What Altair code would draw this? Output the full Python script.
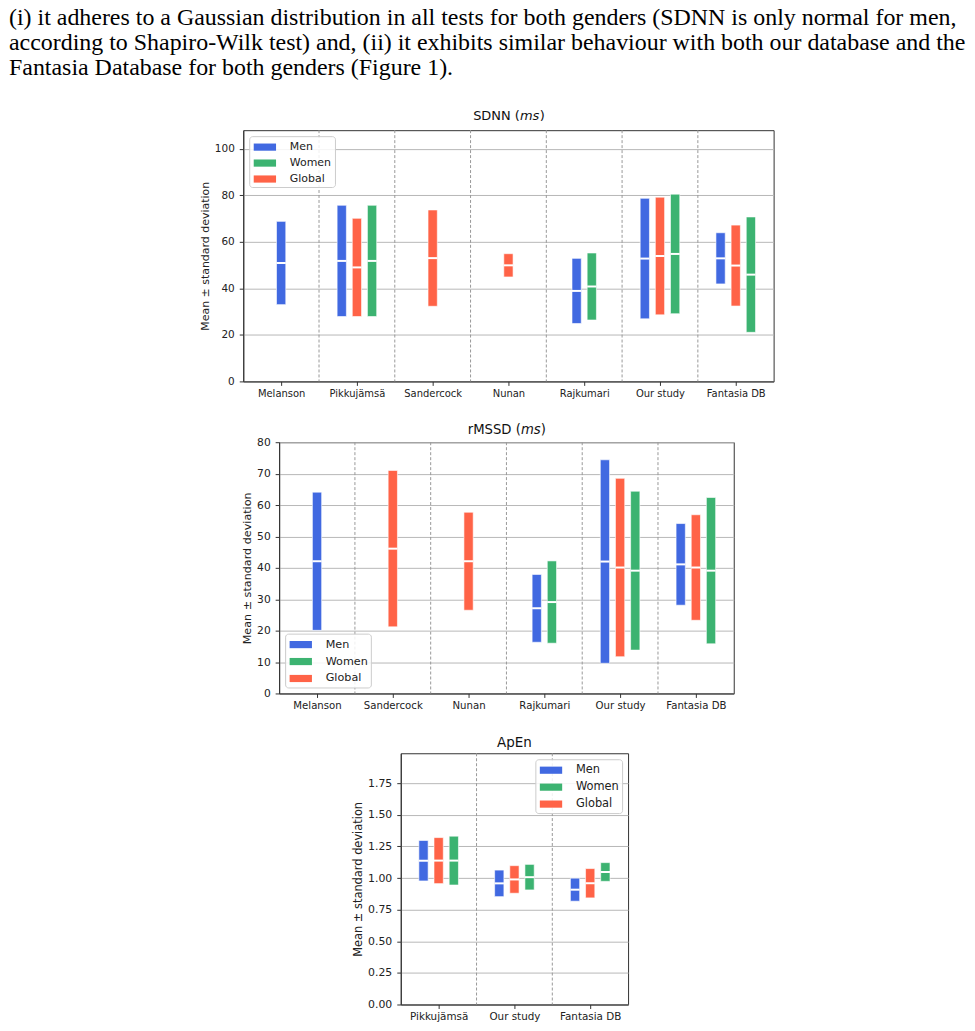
import json
import altair as alt
import pandas as pd

PARA_LINES = [
    "(i) it adheres to a Gaussian distribution in all tests for both genders (SDNN is only normal for men,",
    "according to Shapiro-Wilk test) and, (ii) it exhibits similar behaviour with both our database and the",
    "Fantasia Database for both genders (Figure 1).",
]

GROUPS = ["Men", "Women", "Global"]
GROUP_COLORS = ["#4169E1", "#3CB371", "#FF6347"]
SLOT_ORDER = ["Men", "Global", "Women"]
Y_TITLE = "Mean ± standard deviation"

# SDNN (ms)
SDNN_CATS = ["Melanson", "Pikkujämsä", "Sandercock", "Nunan", "Rajkumari", "Our study", "Fantasia DB"]
SDNN_MEN_MEAN = [50.9, 51.8, None, None, 38.9, 52.8, 52.9]
SDNN_MEN_SD = [17.9, 23.9, None, None, 14.0, 25.9, 11.0]
SDNN_WOMEN_MEAN = [None, 51.8, None, None, 40.8, 54.8, 45.9]
SDNN_WOMEN_SD = [None, 23.9, None, None, 14.4, 25.7, 24.8]
SDNN_GLOBAL_MEAN = [None, 49.0, 53.0, 49.9, None, 53.9, 49.8]
SDNN_GLOBAL_SD = [None, 21.1, 20.7, 5.0, None, 25.3, 17.4]

# rMSSD (ms)
RMSSD_CATS = ["Melanson", "Sandercock", "Nunan", "Rajkumari", "Our study", "Fantasia DB"]
RMSSD_MEN_MEAN = [42.1, None, None, 27.1, 42.0, 41.1]
RMSSD_MEN_SD = [22.0, None, None, 10.8, 32.4, 13.0]
RMSSD_WOMEN_MEAN = [None, None, None, 29.1, 39.1, 39.1]
RMSSD_WOMEN_SD = [None, None, None, 13.1, 25.3, 23.3]
RMSSD_GLOBAL_MEAN = [None, 46.1, 42.1, None, 40.1, 40.1]
RMSSD_GLOBAL_SD = [None, 24.9, 15.6, None, 28.4, 16.8]

# ApEn
APEN_CATS = ["Pikkujämsä", "Our study", "Fantasia DB"]
APEN_MEN_MEAN = [1.137, 0.958, 0.908]
APEN_MEN_SD = [0.160, 0.105, 0.091]
APEN_WOMEN_MEAN = [1.138, 1.007, 1.048]
APEN_WOMEN_SD = [0.193, 0.101, 0.074]
APEN_GLOBAL_MEAN = [1.138, 0.989, 0.959]
APEN_GLOBAL_SD = [0.182, 0.109, 0.116]

STEP = 76
PLOT_H = 252
LEGEND_SYMBOL = "M-1.4,-0.45H1.4V0.45H-1.4Z"


def build_df(cats, series):
    rows = []
    for i, c in enumerate(cats):
        present = [g for g in SLOT_ORDER if series[g][0][i] is not None]
        n = len(present)
        for k, g in enumerate(present):
            m = series[g][0][i]
            s = series[g][1][i]
            rows.append(dict(cat=c, group=g, mean=m, lo=m - s, hi=m + s,
                             xpos=i + (k - (n - 1) / 2) * 0.2))
    return pd.DataFrame(rows)


def panel(cats, series, ydomain, yticks, yfmt, legend_orient, title_parts,
          title_y, fs=1.0):
    n = len(cats)
    W = STEP * n
    df = build_df(cats, series)
    xscale = alt.Scale(domain=[-0.5, n - 0.5], nice=False, zero=False, padding=0)
    yscale = alt.Scale(domain=ydomain, nice=False, zero=False, padding=0)
    label_expr = json.dumps(cats, ensure_ascii=False) + "[round(datum.value)]"
    xaxis = alt.Axis(values=list(range(n)), labelExpr=label_expr, title=None,
                     grid=False, labelFlush=False, labelOverlap=False,
                     labelFontSize=10 * fs, tickSize=4, labelPadding=3.5)
    yaxis = alt.Axis(values=yticks, format=yfmt, title=Y_TITLE, grid=True,
                     tickSize=4, labelPadding=5, labelFontSize=10.5 * fs,
                     titleFontSize=11 * fs, titlePadding=4, labelFlush=False,
                     labelOverlap=False)

    seps = pd.DataFrame({"b": [i + 0.5 for i in range(n - 1)]})
    sep_layer = alt.Chart(seps).mark_rule(
        color="#999999", strokeDash=[3, 2], strokeWidth=1
    ).encode(x=alt.X("b:Q", scale=xscale, axis=xaxis))

    bars = alt.Chart(df).mark_bar(size=9.3, stroke="white", strokeWidth=0.6).encode(
        x=alt.X("xpos:Q", scale=xscale, axis=xaxis),
        y=alt.Y("lo:Q", scale=yscale, axis=yaxis),
        y2="hi:Q",
        color=alt.Color(
            "group:N",
            scale=alt.Scale(domain=GROUPS, range=GROUP_COLORS),
            legend=alt.Legend(
                orient=legend_orient, offset=6, title=None,
                symbolType=LEGEND_SYMBOL, symbolSize=256, symbolStrokeWidth=0,
                symbolOffset=4.7, labelOffset=17, padding=3, rowPadding=3,
                labelFontSize=11 * fs, labelFont="DejaVu Sans", labelColor="#222222",
                strokeColor="#cccccc", fillColor="rgba(255,255,255,0.85)",
                cornerRadius=3,
            ),
        ),
    )

    means = alt.Chart(df).mark_tick(
        orient="horizontal", color="white", size=9.3, thickness=2, opacity=1
    ).encode(
        x=alt.X("xpos:Q", scale=xscale, axis=xaxis),
        y=alt.Y("mean:Q", scale=yscale, axis=yaxis),
    )

    title_layers = []
    for text, style, align, dx in title_parts:
        title_layers.append(
            alt.Chart(pd.DataFrame({"t": [text]})).mark_text(
                font="DejaVu Sans", fontSize=13 * fs, fontStyle=style,
                align=align, baseline="alphabetic", color="#111111",
            ).encode(x=alt.value(W / 2 + dx), y=alt.value(title_y), text="t:N")
        )

    return alt.layer(sep_layer, bars, means, *title_layers).properties(
        width=W, height=PLOT_H
    )


def spacer(w):
    return alt.Chart(pd.DataFrame({"a": [0]})).mark_point(opacity=0).encode(
        x=alt.value(0), y=alt.value(0)
    ).properties(width=w, height=10, view=alt.ViewBackground(strokeOpacity=0))


def row(w, p):
    return alt.hconcat(spacer(w), p, spacing=0).resolve_scale(
        color="independent"
    ).resolve_legend(color="independent")


sdnn = panel(
    SDNN_CATS,
    {"Men": (SDNN_MEN_MEAN, SDNN_MEN_SD), "Women": (SDNN_WOMEN_MEAN, SDNN_WOMEN_SD),
     "Global": (SDNN_GLOBAL_MEAN, SDNN_GLOBAL_SD)},
    [0, 108], [0, 20, 40, 60, 80, 100], "d", "top-left",
    [("SDNN (", "normal", "right", 11.5), ("ms", "italic", "left", 11.5),
     (")", "normal", "left", 31.5)],
    -10.5, 1.0,
)

rmssd = panel(
    RMSSD_CATS,
    {"Men": (RMSSD_MEN_MEAN, RMSSD_MEN_SD), "Women": (RMSSD_WOMEN_MEAN, RMSSD_WOMEN_SD),
     "Global": (RMSSD_GLOBAL_MEAN, RMSSD_GLOBAL_SD)},
    [0, 80], [0, 10, 20, 30, 40, 50, 60, 70, 80], "d", "bottom-left",
    [("rMSSD (", "normal", "right", 14.5), ("ms", "italic", "left", 14.5),
     (")", "normal", "left", 34.5)],
    -8, 1.02,
)

apen = panel(
    APEN_CATS,
    {"Men": (APEN_MEN_MEAN, APEN_MEN_SD), "Women": (APEN_WOMEN_MEAN, APEN_WOMEN_SD),
     "Global": (APEN_GLOBAL_MEAN, APEN_GLOBAL_SD)},
    [0, 1.987], [0, 0.25, 0.5, 0.75, 1.0, 1.25, 1.5, 1.75], ".2f", "top-right",
    [("ApEn", "normal", "center", 0)],
    -6, 1.04,
)

para = alt.Chart(pd.DataFrame({"a": [0]})).mark_text(
    font="Liberation Serif", fontSize=24, align="left", baseline="alphabetic",
    lineHeight=25, color="black",
).encode(
    x=alt.value(1), y=alt.value(24), text=alt.value(PARA_LINES)
).properties(width=965, height=85, view=alt.ViewBackground(strokeOpacity=0))

chart = alt.vconcat(
    para, row(191, sdnn), row(233, rmssd), row(345, apen), spacing=23
).resolve_scale(color="independent").resolve_legend(color="independent").configure_view(
    stroke="#333333", strokeWidth=1
).configure_axis(
    domainColor="#333333", tickColor="#333333", labelColor="#222222",
    titleColor="#222222", labelFont="DejaVu Sans", titleFont="DejaVu Sans",
    titleFontWeight="normal", gridColor="#b8b8b8", gridWidth=1,
).properties(
    padding={"left": 5, "top": 0, "right": 5, "bottom": 0},
    background="white",
)

chart.save("out.html", embed_options={"renderer": "svg", "actions": False})
